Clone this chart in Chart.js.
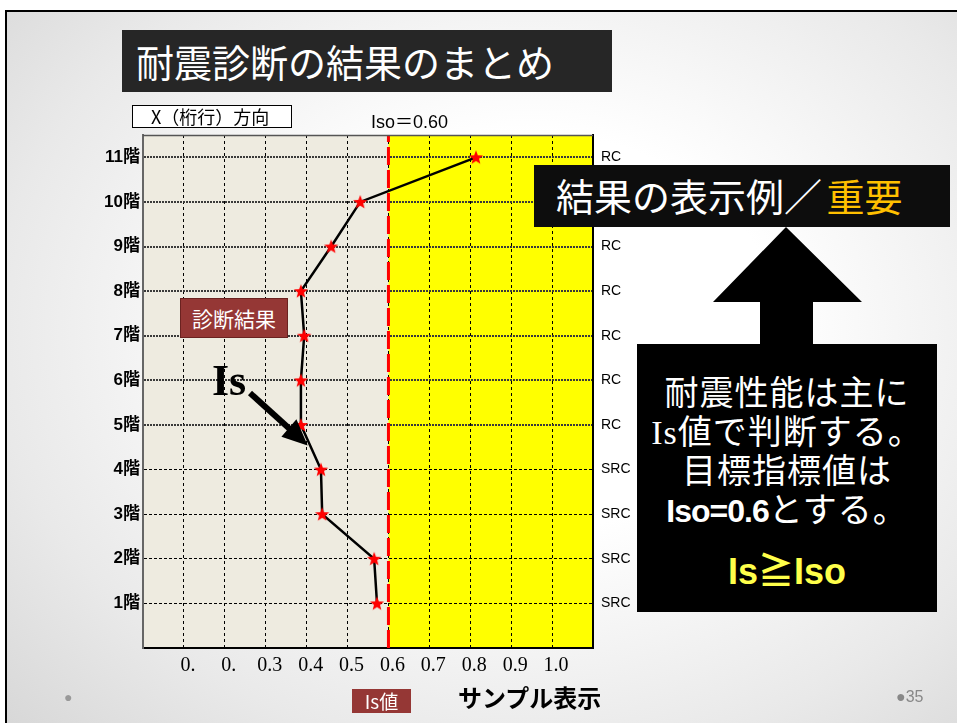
<!DOCTYPE html>
<html lang="ja">
<head>
<meta charset="utf-8">
<script src="https://cdn.jsdelivr.net/npm/chart.js@4/dist/chart.umd.min.js"></script>
<style>
  html, body { margin:0; padding:0; width:957px; height:723px; overflow:hidden; background:#fff; }
  #slide { position:absolute; left:5px; top:10px; width:952px; height:713px;
    border-left:2px solid #000; border-top:2px solid #000; box-sizing:border-box;
    background: radial-gradient(ellipse 75% 80% at 55% 45%, #ffffff 35%, #e9e9e9 75%, #d8d8d8 100%); }
  #c { position:absolute; left:0; top:0; }
  .ov { position:absolute; box-sizing:border-box; font-family:"Noto Sans CJK JP", sans-serif; white-space:nowrap; }
</style>
</head>
<body>
<div id="slide"></div>
<canvas id="c" width="957" height="723"></canvas>

<div class="ov" style="left:122px;top:30px;width:490px;height:62px;background:#262626;color:#fff;font-size:38px;line-height:62px;padding-left:14px;font-weight:400;">耐震診断の結果のまとめ</div>
<div class="ov" style="left:132px;top:105px;width:160px;height:23px;background:#fff;border:1px solid #000;color:#000;font-size:18px;line-height:21px;padding-left:18px;">X（桁行）方向</div>
<div class="ov" style="left:371px;top:110px;color:#000;font-family:'Liberation Sans','Noto Sans CJK JP',sans-serif;font-size:18px;line-height:24px;">Iso＝0.60</div>

<div class="ov" style="left:534px;top:165px;width:416px;height:62px;background:#0d0d0d;color:#fff;font-size:38px;line-height:60px;padding-left:22px;">結果の表示例<span style="letter-spacing:-4px;">／</span> <span style="color:#ffc000">重要</span></div>

<svg class="ov" style="left:0;top:0" width="957" height="723">
  <polygon points="786,227 862,302 813,302 813,346 760,346 760,302 713,302" fill="#000"/>
  <line x1="250" y1="393" x2="292" y2="431" stroke="#000" stroke-width="6"/>
  <polygon points="305,443 284,436 296,422" fill="#000" stroke="#000" stroke-width="3" stroke-linejoin="miter"/>
</svg>

<div class="ov" style="left:637px;top:344px;width:300px;height:268px;background:#000;color:#fff;text-align:center;font-family:'Liberation Serif','Noto Sans CJK JP',serif;">
  <div style="font-size:34px;line-height:39px;margin-top:30px;letter-spacing:1px;">耐震性能は主に</div>
  <div style="font-size:34px;line-height:39px;letter-spacing:1px;">Is値で判断する。</div>
  <div style="font-size:34px;line-height:39px;letter-spacing:1px;">目標指標値は</div>
  <div style="font-size:34px;line-height:39px;letter-spacing:1px;"><span style="font-family:'Liberation Sans Narrow','Liberation Sans',sans-serif;font-weight:bold;font-size:32px;letter-spacing:-1px;">Iso=0.6</span>とする。</div>
  <div style="font-size:36px;line-height:39px;margin-top:21px;color:#ffff4a;font-weight:bold;font-family:'Liberation Sans','Noto Sans CJK JP',sans-serif;">Is≧Iso</div>
</div>

<div class="ov" style="left:180px;top:298px;width:108px;height:40px;background:#953735;border:1px solid #6b2220;color:#fff;font-size:21px;line-height:38px;text-align:center;">診断結果</div>
<div class="ov" style="left:212px;top:356px;color:#000;font-family:'Liberation Serif',serif;font-weight:bold;font-size:44px;line-height:50px;">Is</div>

<div class="ov" style="left:352px;top:689px;width:59px;height:24px;background:#953735;color:#fff;font-size:19px;line-height:24px;text-align:center;">Is値</div>
<div class="ov" style="left:458px;top:682px;color:#000;font-size:24px;line-height:30px;font-weight:bold;">サンプル表示</div>
<div class="ov" style="left:896px;top:686px;color:#888;font-family:'Liberation Sans Narrow','Liberation Sans',sans-serif;font-size:16px;line-height:22px;">●35</div>
<div class="ov" style="left:64px;top:686px;color:#999;font-family:'Liberation Sans',sans-serif;font-size:14px;line-height:22px;">●</div>

<script>
// ---- data ----
const floors = [1, 2, 3, 4, 5, 6, 7, 8, 9, 10, 11];
const floorLabels = ['1階', '2階', '3階', '4階', '5階', '6階', '7階', '8階', '9階', '10階', '11階'];
const isValues = [0.572, 0.565, 0.438, 0.435, 0.386, 0.386, 0.394, 0.386, 0.460, 0.531, 0.814];
const structureTypes = ['SRC', 'SRC', 'SRC', 'SRC', 'RC', 'RC', 'RC', 'RC', 'RC', 'RC', 'RC'];
const xTickValues = [0.1, 0.2, 0.3, 0.4, 0.5, 0.6, 0.7, 0.8, 0.9, 1.0];
const xTickLabels = ['0.', '0.', '0.3', '0.4', '0.5', '0.6', '0.7', '0.8', '0.9', '1.0'];
const isoValue = 0.6;
const xMin = 0, xMax = 1.1, yMin = 0, yMax = 11.5;

// star marker
function makeStar(size, color) {
  const cv = document.createElement('canvas');
  cv.width = size; cv.height = size;
  const g = cv.getContext('2d');
  const cx = size / 2, cy = size / 2 + 0.5, R = size / 2 - 0.5, r = R * 0.42;
  g.beginPath();
  for (let i = 0; i < 10; i++) {
    const a = -Math.PI / 2 + i * Math.PI / 5;
    const rad = i % 2 === 0 ? R : r;
    g.lineTo(cx + rad * Math.cos(a), cy + rad * Math.sin(a));
  }
  g.closePath();
  g.fillStyle = color; g.fill();
  return cv;
}
const star = makeStar(16, '#ff0000');

const bgPlugin = {
  id: 'bg',
  beforeDraw(chart) {
    const { ctx, chartArea: a, scales } = chart;
    const xi = scales.x.getPixelForValue(isoValue);
    ctx.save();
    ctx.fillStyle = '#eeebe0';
    ctx.fillRect(a.left, a.top, xi - a.left, a.bottom - a.top);
    ctx.fillStyle = '#ffff00';
    ctx.fillRect(xi, a.top, a.right - xi, a.bottom - a.top);
    ctx.restore();
  },
  afterDraw(chart) {
    const { ctx, chartArea: a } = chart;
    ctx.save();
    ctx.strokeStyle = '#555';
    ctx.lineWidth = 1.5;
    ctx.beginPath();
    ctx.moveTo(a.left, a.top + 0.5);
    ctx.lineTo(a.right, a.top + 0.5);
    ctx.stroke();
    ctx.restore();
  }
};

const floorTicks = (s) => { s.ticks = floors.map(v => ({ value: v })); };

new Chart(document.getElementById('c'), {
  type: 'line',
  data: {
    datasets: [
      {
        data: floors.map((f, i) => ({ x: isValues[i], y: f })),
        borderColor: '#000',
        borderWidth: 2.5,
        pointStyle: star,
        pointRadius: 8,
        tension: 0,
        order: 0
      },
      {
        data: [{ x: isoValue, y: yMin }, { x: isoValue, y: yMax }],
        borderColor: '#ff0000',
        borderWidth: 3,
        borderDash: [18, 5],
        pointRadius: 0,
        order: 1
      }
    ]
  },
  options: {
    responsive: false,
    animation: false,
    layout: { padding: { top: 135, left: 0, right: 0, bottom: 0 } },
    plugins: { legend: { display: false }, tooltip: { enabled: false } },
    scales: {
      x: {
        type: 'linear', position: 'bottom', min: xMin, max: xMax,
        afterBuildTicks: (s) => { s.ticks = xTickValues.map(v => ({ value: v })); },
        afterFit: (s) => { s.height = 75; },
        ticks: {
          callback: (v) => { const i = xTickValues.findIndex(t => Math.abs(t - v) < 1e-6); return i >= 0 ? xTickLabels[i] : ''; },
          font: { family: 'Liberation Serif', size: 20 }, color: '#000', padding: 6, labelOffset: 4, maxRotation: 0, autoSkip: false
        },
        grid: { color: '#000', lineWidth: 1, drawTicks: false },
        border: { color: '#000', width: 2, dash: [3, 3] }
      },
      y: {
        type: 'linear', position: 'left', min: yMin, max: yMax,
        afterBuildTicks: floorTicks,
        afterFit: (s) => { s.width = 143; },
        ticks: {
          callback: (v) => floorLabels[floors.indexOf(v)],
          font: { family: "'Liberation Sans', 'Noto Sans CJK JP'", size: 17, weight: 'bold' }, color: '#000', padding: 3, autoSkip: false
        },
        grid: {
          drawTicks: false,
          color: (c) => (c.tick && c.tick.value >= 5 ? '#3a3a3a' : '#000'),
          lineWidth: (c) => (c.tick && c.tick.value >= 5 ? 2 : 1)
        },
        border: { color: '#666', width: 2, dash: (c) => (c.tick && c.tick.value >= 5 ? [2, 1] : [3, 2]) }
      },
      y2: {
        type: 'linear', position: 'right', min: yMin, max: yMax,
        afterBuildTicks: floorTicks,
        afterFit: (s) => { s.width = 364; },
        ticks: {
          callback: (v) => structureTypes[floors.indexOf(v)],
          font: { family: 'Liberation Sans', size: 14 }, color: '#000', padding: 8, autoSkip: false
        },
        grid: { display: false, drawTicks: false },
        border: { color: '#000', width: 2 }
      }
    }
  },
  plugins: [bgPlugin]
});
</script>
</body>
</html>
